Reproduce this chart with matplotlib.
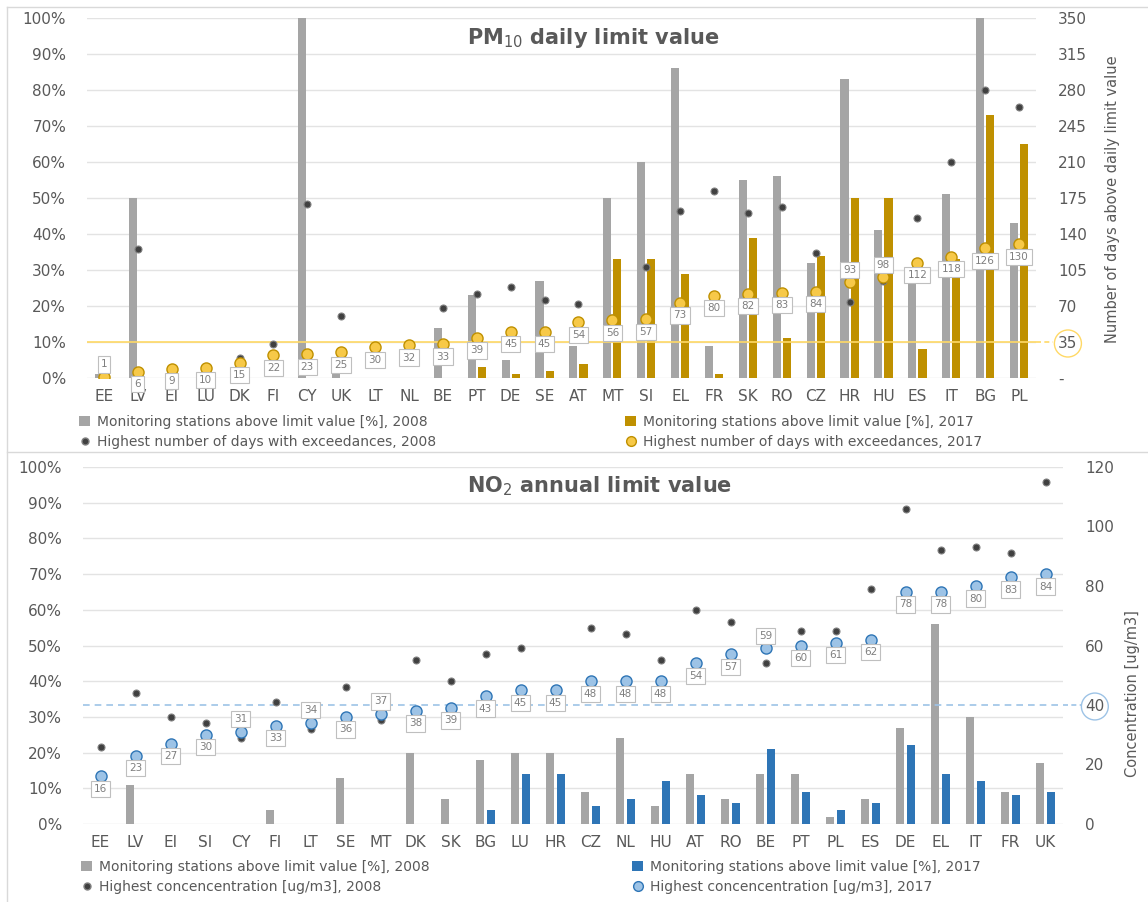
import numpy as np
import matplotlib
matplotlib.use('Agg')
import matplotlib.pyplot as plt
from matplotlib.patches import Patch, Rectangle
from matplotlib.lines import Line2D
from matplotlib.ticker import FuncFormatter
import matplotlib.transforms as mtransforms

plt.rcParams['font.family'] = ['DejaVu Sans']

# ---- PM10 data ----
pm_countries = ['EE', 'LV', 'EI', 'LU', 'DK', 'FI', 'CY', 'UK', 'LT', 'NL', 'BE', 'PT', 'DE', 'SE',
                'AT', 'MT', 'SI', 'EL', 'FR', 'SK', 'RO', 'CZ', 'HR', 'HU', 'ES', 'IT', 'BG', 'PL']
pm_st_2008 = [1, 50, 0, 0, 0, 0, 100, 1, 0, 0, 14, 23, 5, 27,
              9, 50, 60, 86, 9, 55, 56, 32, 83, 41, 27, 51, 100, 43]
pm_st_2017 = [0, 0, 0, 0, 0, 0, 0, 0, 0, 0, 0, 3, 1, 2,
              4, 33, 33, 29, 1, 39, 11, 34, 50, 50, 8, 33, 73, 65]
pm_days_2008 = [2, 125, 10, 11, 19, 33, 169, 60, 30, 32, 68, 82, 88, 76,
                72, 58, 108, 162, 182, 160, 166, 122, 74, 94, 156, 210, 280, 263]
pm_days_2017 = [1, 6, 9, 10, 15, 22, 23, 25, 30, 32, 33, 39, 45, 45,
                54, 56, 57, 73, 80, 82, 83, 84, 93, 98, 112, 118, 126, 130]
pm_limit = 35

# ---- NO2 data ----
no_countries = ['EE', 'LV', 'EI', 'SI', 'CY', 'FI', 'LT', 'SE', 'MT', 'DK', 'SK', 'BG', 'LU', 'HR',
                'CZ', 'NL', 'HU', 'AT', 'RO', 'BE', 'PT', 'PL', 'ES', 'DE', 'EL', 'IT', 'FR', 'UK']
no_st_2008 = [0, 11, 0, 0, 0, 4, 0, 13, 0, 20, 7, 18, 20, 20,
              9, 24, 5, 14, 7, 14, 14, 2, 7, 27, 56, 30, 9, 17]
no_st_2017 = [0, 0, 0, 0, 0, 0, 0, 0, 0, 0, 0, 4, 14, 14,
              5, 7, 12, 8, 6, 21, 9, 4, 6, 22, 14, 12, 8, 9]
no_conc_2008 = [26, 44, 36, 34, 29, 41, 32, 46, 35, 55, 48, 57, 59, 44,
                66, 64, 55, 72, 68, 54, 65, 65, 79, 106, 92, 93, 91, 115]
no_conc_2017 = [16, 23, 27, 30, 31, 33, 34, 36, 37, 38, 39, 43, 45, 45,
                48, 48, 48, 54, 57, 59, 60, 61, 62, 78, 78, 80, 83, 84]
no_limit = 40

GRAY = '#A5A5A5'
GOLD = '#BF9000'
GOLD_DOT = '#F7C948'
BLUE = '#2E75B6'
BLUE_DOT = '#9DC3E6'
TXT = '#595959'
GRID = '#E3E3E3'

W, H = 1148, 902
fig = plt.figure(figsize=(W / 100, H / 100), dpi=100, facecolor='white')


def px(x, y):
    return x / W, 1 - y / H


def panel(rect, countries, st08, st17, v08, v17, c17, dot17, vmax, vstep, limit,
          limit_col, limit_ls, above, offs, width):
    ax = fig.add_axes(rect)
    x = np.arange(len(countries))
    ax.bar(x - offs, np.array(st08) / 100, width, color=GRAY, zorder=2)
    ax.bar(x + offs, np.array(st17) / 100, width, color=c17, zorder=2)
    ax.set_xlim(-0.5, len(countries) - 0.5)
    ax.set_ylim(0, 1)
    ax.set_yticks(np.arange(0, 1.01, 0.1))
    ax.yaxis.set_major_formatter(FuncFormatter(lambda v, p: '%d%%' % round(v * 100)))
    ax.grid(axis='y', color=GRID, lw=1, zorder=0)
    ax.set_axisbelow(True)
    ax.set_xticks(x)
    ax.set_xticklabels(countries)
    ax.tick_params(length=0, labelsize=11, labelcolor=TXT)
    ax.tick_params(axis='y', pad=15)
    ax.tick_params(axis='x', pad=8)
    for s in ax.spines.values():
        s.set_visible(False)

    ax2 = ax.twinx()
    ax2.set_ylim(0, vmax)
    ticks = np.arange(0, vmax + 0.1, vstep)
    ax2.set_yticks(ticks)
    ax2.set_yticklabels(['-' if t == 0 and vstep == 35 else '%d' % t for t in ticks])
    ax2.tick_params(length=0, labelsize=11, labelcolor=TXT, pad=16)
    for s in ax2.spines.values():
        s.set_visible(False)
    for lab, t in zip(ax2.get_yticklabels(), ticks):
        if t == limit:
            lab.set_bbox(dict(boxstyle='circle,pad=0.25', fc='white', ec=limit_col, lw=1))

    ax2.axhline(limit, color=limit_col, lw=1.2, ls=limit_ls, zorder=3)
    trans = mtransforms.blended_transform_factory(ax2.transAxes, ax2.transData)
    ax2.plot([1.0, 1.018], [limit, limit], transform=trans, color=limit_col, lw=1.2,
             ls=(0, (3, 2)), clip_on=False)

    ax2.plot(x, v08, 'o', ms=5, mfc='#404040', mec='#808080', mew=0.8, ls='none', zorder=4)
    ax2.plot(x, v17, 'o', ms=8, mfc=dot17, mec=c17, mew=1, ls='none', zorder=5)
    for i, v in enumerate(v17):
        dy = 9 if countries[i] in above else -9
        ax2.annotate(str(v), (i, v), xytext=(0, dy), textcoords='offset points',
                     ha='center', va='center', fontsize=7.5, color='#7F7F7F', zorder=6,
                     bbox=dict(boxstyle='square,pad=0.3', fc='white', ec='#BFBFBF', lw=0.8))
    return ax, ax2


# PM10 panel
l, t = px(87, 18)
r, b = px(1036, 378)
panel([l, b, r - l, t - b], pm_countries, pm_st_2008, pm_st_2017, pm_days_2008, pm_days_2017,
      GOLD, GOLD_DOT, 350, 35, pm_limit, '#FFD966', '-', {'EE', 'HR', 'HU'}, 0.15, 0.24)

# NO2 panel
l, t = px(83, 467)
r, b = px(1063, 824)
panel([l, b, r - l, t - b], no_countries, no_st_2008, no_st_2017, no_conc_2008, no_conc_2017,
      BLUE, BLUE_DOT, 120, 20, no_limit, BLUE_DOT, (0, (4, 3)), {'CY', 'LT', 'MT', 'BE'}, 0.157, 0.23)

# titles
fig.text(*px(593, 38), 'PM$_{10}$ daily limit value', ha='center', va='center',
         fontsize=15, fontweight='bold', color=TXT)
fig.text(*px(600, 486), 'NO$_2$ annual limit value', ha='center', va='center',
         fontsize=15, fontweight='bold', color=TXT)

# right axis titles
fig.text(*px(1113, 199), 'Number of days above daily limit value', rotation=90,
         ha='center', va='center', fontsize=10.5, color=TXT,
         family=['Liberation Sans Narrow', 'DejaVu Sans'])
fig.text(*px(1132, 694), 'Concentration [ug/m3]', rotation=90,
         ha='center', va='center', fontsize=10.5, color=TXT,
         family=['Liberation Sans Narrow', 'DejaVu Sans'])


# legends
def leg(handles, labels, x, y):
    fig.legend(handles, labels, loc='upper left', bbox_to_anchor=px(x, y), frameon=False,
               fontsize=10, labelcolor=TXT, handlelength=0.8, handleheight=0.8,
               handletextpad=0.5, labelspacing=0.45, borderpad=0, borderaxespad=0)


sq = lambda c: Patch(facecolor=c, edgecolor='none')
dot_08 = Line2D([], [], marker='o', ls='none', ms=5, mfc='#404040', mec='#808080')
dot_gold = Line2D([], [], marker='o', ls='none', ms=7, mfc=GOLD_DOT, mec=GOLD)
dot_blue = Line2D([], [], marker='o', ls='none', ms=7, mfc=BLUE_DOT, mec=BLUE)

leg([sq(GRAY), dot_08], ['Monitoring stations above limit value [%], 2008',
                         'Highest number of days with exceedances, 2008'], 79, 415)
leg([sq(GOLD), dot_gold], ['Monitoring stations above limit value [%], 2017',
                           'Highest number of days with exceedances, 2017'], 625, 415)
leg([sq(GRAY), dot_08], ['Monitoring stations above limit value [%], 2008',
                         'Highest concencentration [ug/m3], 2008'], 81, 860)
leg([sq(BLUE), dot_blue], ['Monitoring stations above limit value [%], 2017',
                           'Highest concencentration [ug/m3], 2017'], 632, 860)

# panel frames
for y in (7, 452):
    fig.add_artist(Line2D([7 / W, 1], [1 - y / H] * 2, color='#D9D9D9', lw=1))
fig.add_artist(Line2D([7 / W] * 2, [0, 1 - 7 / H], color='#D9D9D9', lw=1))

plt.savefig('out.png', dpi=100, facecolor='white')
